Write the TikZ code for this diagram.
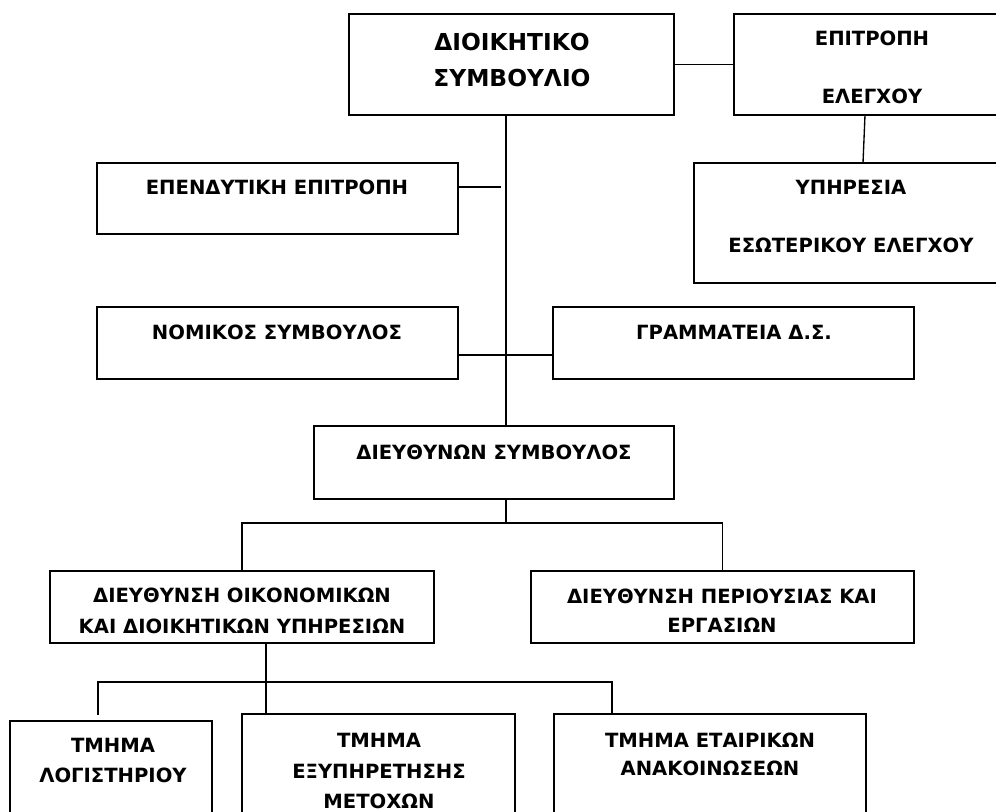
\documentclass[tikz,border=0pt]{standalone}
\usepackage{fontspec}
\setmainfont{DejaVu Sans}
\begin{document}
\begin{tikzpicture}[x=0.75pt,y=-0.75pt,
  box/.style={draw=black, line width=1.5pt, inner sep=0pt},
  conn/.style={draw=black, line width=1pt},
  lbl/.style={align=center, inner sep=0pt, font=\bfseries\fontsize{14.7}{26}\selectfont}]
\clip (0,0) rectangle (996,812);
\fill[white] (0,0) rectangle (996,812);
\newcommand\bx[5]{\node[box, minimum width={(#4-#2)*0.75pt}, minimum height={(#5-#3)*0.75pt}] (#1) at ({(#2+#4)/2},{(#3+#5)/2}) {};}
% boxes
\bx{dsb}{349}{14}{674}{115}
\bx{epel}{734}{14}{1010}{115}
\bx{yee}{694}{163}{1008}{283}
\bx{epe}{97}{163}{458}{234}
\bx{nom}{97}{307}{458}{379}
\bx{gram}{553}{307}{914}{379}
\bx{dsy}{314}{426}{674}{499}
\bx{doik}{50}{571}{434}{643}
\bx{dper}{531}{571}{914}{643}
\bx{log}{10}{721}{212}{840}
\bx{exy}{242}{714}{515}{840}
\bx{eta}{554}{714}{866}{840}
% texts
\node[lbl, font=\bfseries\fontsize{17.5}{27}\selectfont] (dsbt) at (512,60) {ΔΙΟΙΚΗΤΙΚΟ\\ΣΥΜΒΟΥΛΙΟ};
\node[lbl, font=\bfseries\fontsize{14.7}{44}\selectfont] (epelt) at (872,67.5) {ΕΠΙΤΡΟΠΗ\\ΕΛΕΓΧΟΥ};
\node[lbl, font=\bfseries\fontsize{14.7}{43}\selectfont] (yeet) at (851,216.5) {ΥΠΗΡΕΣΙΑ\\ΕΣΩΤΕΡΙΚΟΥ ΕΛΕΓΧΟΥ};
\node[lbl] (epet) at (277,187) {ΕΠΕΝΔΥΤΙΚΗ ΕΠΙΤΡΟΠΗ};
\node[lbl] (nomt) at (277,332) {ΝΟΜΙΚΟΣ ΣΥΜΒΟΥΛΟΣ};
\node[lbl] (gramt) at (734,332) {ΓΡΑΜΜΑΤΕΙΑ Δ.Σ.};
\node[lbl] (dsyt) at (494,452) {ΔΙΕΥΘΥΝΩΝ ΣΥΜΒΟΥΛΟΣ};
\node[lbl, font=\bfseries\fontsize{14.7}{23}\selectfont] (doikt) at (242,611) {ΔΙΕΥΘΥΝΣΗ ΟΙΚΟΝΟΜΙΚΩΝ\\ΚΑΙ ΔΙΟΙΚΗΤΙΚΩΝ ΥΠΗΡΕΣΙΩΝ};
\node[lbl, font=\bfseries\fontsize{14.7}{22}\selectfont] (dpert) at (722,611) {ΔΙΕΥΘΥΝΣΗ ΠΕΡΙΟΥΣΙΑΣ ΚΑΙ\\ΕΡΓΑΣΙΩΝ};
\node[lbl, font=\bfseries\fontsize{14.7}{22.5}\selectfont] (logt) at (113,760) {ΤΜΗΜΑ\\ΛΟΓΙΣΤΗΡΙΟΥ};
\node[lbl, font=\bfseries\fontsize{14.7}{23}\selectfont] (exyt) at (379,771) {ΤΜΗΜΑ\\ΕΞΥΠΗΡΕΤΗΣΗΣ\\ΜΕΤΟΧΩΝ};
\node[lbl, font=\bfseries\fontsize{14.7}{20.5}\selectfont] (etat) at (710,754.5) {ΤΜΗΜΑ ΕΤΑΙΡΙΚΩΝ\\ΑΝΑΚΟΙΝΩΣΕΩΝ};
% helper coordinates
\coordinate (tr) at (506,0);
\coordinate (epeend) at (501,187);
\coordinate (ng) at (506,355);
\coordinate (bus1) at (506,523);
\coordinate (bus2) at (266,682);
\coordinate (yeetop) at (863,163);
\coordinate (epelbot) at (865,115);
\coordinate (c98) at (98,715);
\coordinate (c612) at (612,714);
% connectors
\draw[conn] (dsb.east) -- (epel.west);
\draw[conn] (epelbot) -- (yeetop);
\draw[conn] (dsb.south -| tr) -- (dsy.north -| tr);
\draw[conn] (epe.east |- epeend) -- (epeend);
\draw[conn] (nom.east |- ng) -- (gram.west |- ng);
\draw[conn] (dsy.south -| tr) -- (bus1);
\draw[conn] (doik.north) -- (doik.north |- bus1) -- (dper.north |- bus1) -- (dper.north);
\draw[conn] (doik.south -| bus2) -- (exy.north -| bus2);
\draw[conn] (c98) -- (c98 |- bus2) -- (c612 |- bus2) -- (c612);
\end{tikzpicture}
\end{document}
